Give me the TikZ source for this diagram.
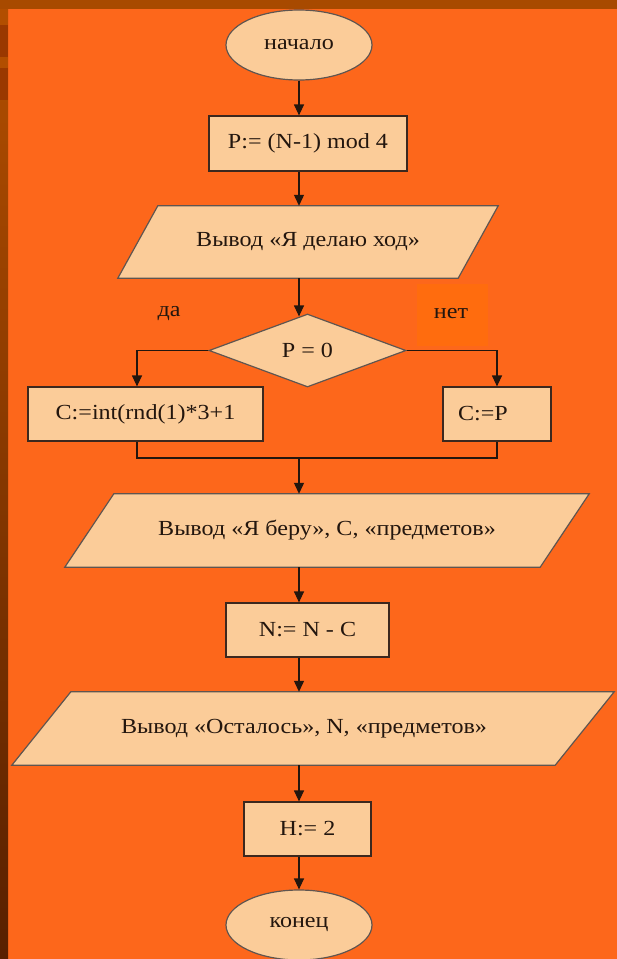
\documentclass[tikz,border=0pt]{standalone}
\usepackage{fontspec}
\setmainfont[FakeStretch=1.12]{Liberation Serif}
\usetikzlibrary{shapes.geometric,arrows.meta,calc}
\definecolor{bgorange}{RGB}{253,103,27}
\definecolor{netorange}{RGB}{255,108,14}
\definecolor{topstrip}{RGB}{168,74,0}
\definecolor{stripA}{RGB}{178,78,0}
\definecolor{stripB}{RGB}{154,56,0}
\definecolor{stripbot}{RGB}{88,32,0}
\definecolor{peach}{RGB}{251,204,153}
\definecolor{inkc}{RGB}{35,22,14}
\definecolor{edgec}{RGB}{60,40,30}
\definecolor{softedge}{RGB}{95,85,80}
\pgfdeclarelayer{shapelayer}
\pgfsetlayers{shapelayer,main}
\tikzset{
  txt/.style={font=\fontsize{21.5}{25}\selectfont, text=inkc},
  boxnode/.style={txt, rectangle, draw=edgec, fill=peach, line width=1.2pt, inner sep=0pt},
  ovalnode/.style={txt, ellipse, draw=softedge, fill=peach, line width=1.2pt, inner sep=0pt,
     minimum width=146pt, minimum height=70pt},
  decnode/.style={txt, diamond, draw=softedge, fill=peach, line width=1.2pt, inner sep=0pt},
  paranode/.style={txt, rectangle, inner sep=0pt},
  parashape/.style={fill=peach, draw=softedge, line width=1.2pt},
  arr/.style={draw=inkc, line width=1.2pt, -{Triangle[length=11pt,width=10pt]}},
  plainline/.style={draw=inkc, line width=1.2pt},
}
\newcommand{\paraShape}[2]{%
  \begin{pgfonlayer}{shapelayer}
    \filldraw[parashape] ([xshift=#2pt]#1.north west) -- (#1.north east)
      -- ([xshift=-#2pt]#1.south east) -- (#1.south west) -- cycle;
  \end{pgfonlayer}}
\begin{document}
\begin{tikzpicture}[x=1pt,y=-1pt]
\useasboundingbox (0,0) rectangle (617,959);
% background
\begin{pgfonlayer}{shapelayer}
\fill[bgorange] (0,0) rectangle (617,959);
\fill[topstrip] (0,0) rectangle (617,9);
\shade[top color=stripA, bottom color=stripbot] (0,9) rectangle (8,959);
\fill[stripA] (0,9) rectangle (8,25);
\fill[stripB] (0,25) rectangle (8,57);
\fill[stripA] (0,57) rectangle (8,68);
\fill[stripB] (0,68) rectangle (8,100);
\fill[netorange] (417,284) rectangle (488,346);
\end{pgfonlayer}

% nodes
\node[ovalnode] (start) at (299,45) {начало};
\node[boxnode, minimum width=198pt, minimum height=55pt] (p) at (308,143.5) {P:= (N-1) mod 4};
\node[paranode, minimum width=380pt, minimum height=72pt] (o1) at (308,242) {Вывод «Я делаю ход»};
\paraShape{o1}{40}
\node[decnode, minimum width=197pt, minimum height=73pt] (dec) at (307.5,350.5) {P = 0};
\node[txt] (yes) at (169,314) {да};
\node[txt] (no) at (451,314) {нет};
\node[boxnode, minimum width=235pt, minimum height=54pt] (c1) at (145.5,414) {C:=int(rnd(1)*3+1};
\node[boxnode, minimum width=108pt, minimum height=54pt] (c2) at (497,414) {C:=P\hspace*{28pt}};
\coordinate (m) at (299,458);
\node[paranode, minimum width=524pt, minimum height=73pt] (o2) at (327,530.5) {Вывод «Я беру», C, «предметов»};
\paraShape{o2}{49}
\node[boxnode, minimum width=163pt, minimum height=54pt] (n) at (307.5,630) {N:= N - C};
\node[paranode, minimum width=602pt, minimum height=73pt] (o3) at (313,728.5) {\hspace*{-18pt}Вывод «Осталось», N, «предметов»};
\paraShape{o3}{59}
\node[boxnode, minimum width=127pt, minimum height=54pt] (h) at (307.5,829) {H:= 2};
\node[ovalnode] (fin) at (299,925) {конец};
\coordinate (ax) at (299,0);

% connectors
\draw[arr] (start.south) -- (ax |- p.north);
\draw[arr] (ax |- p.south) -- (ax |- o1.north);
\draw[arr] (ax |- o1.south) -- ($(ax |- dec.north)+(0,3)$);
\draw[arr] (dec.west) -| ([xshift=-8.5pt]c1.north);
\draw[arr] (dec.east) -| (c2.north);
\draw[plainline] ([xshift=-8.5pt]c1.south) |- (m) -| (c2.south);
\draw[arr] (m) -- (ax |- o2.north);
\draw[arr] (ax |- o2.south) -- (ax |- n.north);
\draw[arr] (ax |- n.south) -- (ax |- o3.north);
\draw[arr] (ax |- o3.south) -- (ax |- h.north);
\draw[arr] (ax |- h.south) -- (fin.north);
\end{tikzpicture}
\end{document}
